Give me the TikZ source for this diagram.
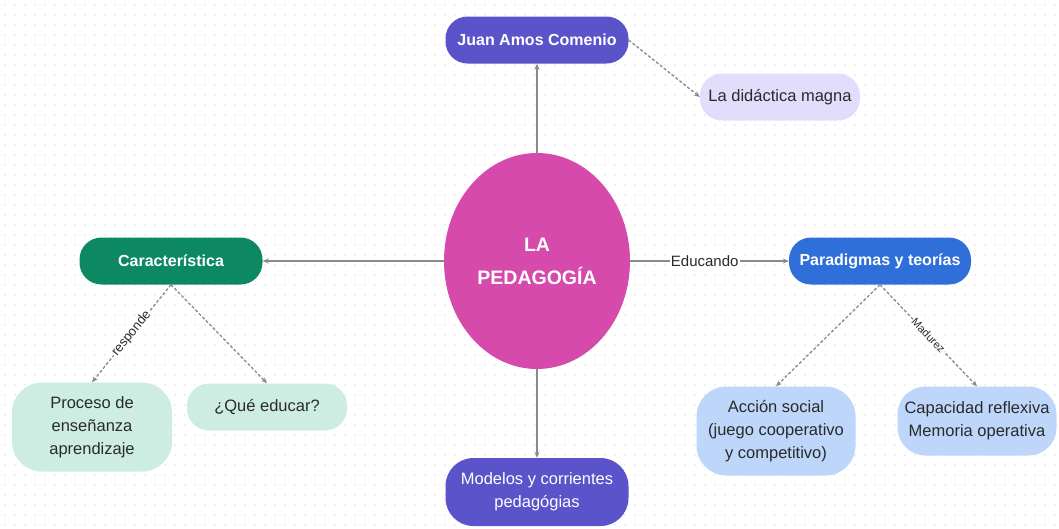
\documentclass[tikz,border=0pt]{standalone}
\usepackage{fontspec}
\setmainfont{Liberation Sans}
\usetikzlibrary{arrows.meta,shapes.geometric}
\definecolor{cpurple}{HTML}{5A53C9}
\definecolor{clav}{HTML}{E3DDFC}
\definecolor{cgreen}{HTML}{0C8962}
\definecolor{cmint}{HTML}{CDEDE3}
\definecolor{cblue}{HTML}{2F6FDA}
\definecolor{clblue}{HTML}{BDD6FA}
\definecolor{cmag}{HTML}{D64AAC}
\definecolor{cline}{HTML}{8A8A8A}
\definecolor{ctext}{HTML}{2A2A2A}
\definecolor{cdot}{HTML}{E0E0E0}
\tikzset{
  pill/.style={rounded corners=22pt, inner sep=0pt, align=center, font=\fontsize{16.5}{23}\selectfont},
  dark/.style={pill, text=white, font=\fontsize{16}{23}\selectfont\bfseries},
  conn/.style={draw=cline, line width=1.5pt, -{Stealth[length=6pt,width=5pt]}},
  dconn/.style={draw=cline, line width=1.3pt, dash pattern=on 3pt off 2pt, -{Stealth[length=6pt,width=5pt]}},
  lbl/.style={fill=white, inner sep=1pt, text=ctext},
}
\begin{document}
\begin{tikzpicture}[x=1pt,y=-1pt]
\useasboundingbox (0,0) rectangle (1059,528);
\fill[white] (0,0) rectangle (1059,528);
\foreach \i in {0,...,105} {\foreach \j in {0,...,52} {\fill[cdot] (5+\i*10,5+\j*10) circle (0.8pt);}}
% nodes
\node[ellipse, fill=cmag, minimum width=186pt, minimum height=216pt, text=white, align=center, font=\fontsize{19.5}{33}\selectfont\bfseries] (ped) at (537,261) {LA\\PEDAGOGÍA};
\node[dark, fill=cpurple, minimum width=183pt, minimum height=47pt] (juan) at (537,40) {Juan Amos Comenio};
\node[pill, fill=clav, text=ctext, minimum width=160pt, minimum height=47pt] (did) at (780,97) {La didáctica magna};
\node[dark, fill=cgreen, minimum width=183pt, minimum height=47pt] (car) at (171,261) {Característica};
\node[dark, fill=cblue, minimum width=182pt, minimum height=47pt] (par) at (880,261) {Paradigmas y teorías};
\node[pill, fill=cmint, text=ctext, minimum width=160pt, minimum height=89pt, rounded corners=30pt] (pro) at (92,427) {Proceso de\\enseñanza\\aprendizaje};
\node[pill, fill=cmint, text=ctext, minimum width=160pt, minimum height=47pt] (que) at (267,407) {¿Qué educar?};
\node[pill, fill=clblue, text=ctext, minimum width=159pt, minimum height=89pt, rounded corners=30pt] (acc) at (776,431) {Acción social\\(juego cooperativo\\y competitivo)};
\node[pill, fill=clblue, text=ctext, minimum width=159pt, minimum height=69pt, rounded corners=28pt] (cap) at (977,421) {Capacidad reflexiva\\Memoria operativa};
\node[pill, fill=cpurple, text=white, minimum width=183pt, minimum height=68pt, rounded corners=28pt] (mod) at (537,492) {Modelos y corrientes\\pedagógias};
% connectors
\draw[conn] (ped.north) -- (juan.south);
\draw[conn] (ped.south) -- (mod.north);
\draw[conn] (ped.west) -- (car.east);
\draw[conn] (ped.east) -- node[lbl, pos=0.47, font=\fontsize{15}{18}\selectfont] {Educando} (par.west);
\draw[dconn] (juan.east) -- (did.west);
\draw[dconn] (car.south) -- node[lbl, sloped, font=\fontsize{13}{15}\selectfont] {responde} (pro.north);
\draw[dconn] (car.south) -- (que.north);
\draw[dconn] (par.south) -- (acc.north);
\draw[dconn] (par.south) -- node[lbl, sloped, font=\fontsize{11}{13}\selectfont] {Madurez} (cap.north);
\end{tikzpicture}
\end{document}
